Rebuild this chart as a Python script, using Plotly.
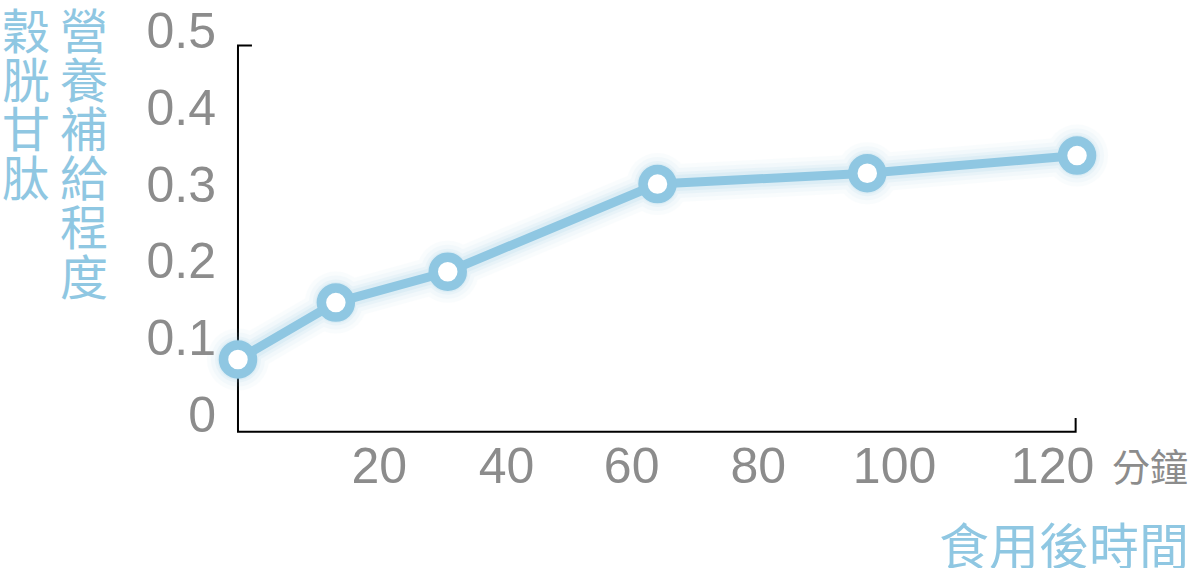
import plotly.graph_objects as go

# Data: minutes after intake vs glutathione level
minutes = [0, 14, 30, 60, 90, 120]
level = [0.072, 0.146, 0.186, 0.300, 0.314, 0.337]

y_ticks = [0, 0.1, 0.2, 0.3, 0.4, 0.5]
y_tick_text = ["0", "0.1", "0.2", "0.3", "0.4", "0.5"]
x_tick_text = ["20", "40", "60", "80", "100", "120"]

y_title_left = "穀胱甘肽"
y_title_right = "營養補給程度"
x_unit = "分鐘"
x_title = "食用後時間"

BLUE = "#8fc7e2"
GRAY = "#8c8c8c"
CJK = "Noto Sans CJK TC"
LATIN = "Liberation Sans, Arial, sans-serif"

W, H = 1192, 568
ML, MR, MT, MB = 217, 80, 3, 130
PW, PH = W - ML - MR, H - MT - MB


def paper_x(px):
    return (px - ML) / PW


def paper_y(py):
    return (H - MB - py) / PH


fig = go.Figure()

# soft glow under the line
for width, size, op in [(38, 62, 0.045), (30, 54, 0.06), (22, 46, 0.09), (16, 41, 0.13)]:
    fig.add_trace(go.Scatter(
        x=minutes, y=level, mode="lines+markers",
        line=dict(color=BLUE, width=width),
        marker=dict(size=size, color=BLUE),
        opacity=op, hoverinfo="skip", showlegend=False,
        cliponaxis=False,
    ))

fig.add_trace(go.Scatter(
    x=minutes, y=level, mode="lines+markers",
    line=dict(color=BLUE, width=9),
    marker=dict(size=29, color="white", line=dict(color=BLUE, width=9.5)),
    showlegend=False, cliponaxis=False,
))

# L-shaped axis frame with small end ticks
fig.add_shape(
    type="path",
    path="M 2,0.48 L 0,0.48 L 0,-0.022 L 119.8,-0.022 L 119.8,-0.004",
    xref="x", yref="y",
    line=dict(color="black", width=2),
    layer="below",
)

annotations = []
for i, ch in enumerate(y_title_left):
    annotations.append(dict(
        text=ch, x=paper_x(26), y=paper_y(24 + 49.5 * i),
        xref="paper", yref="paper", showarrow=False,
        xanchor="center", yanchor="middle",
        font=dict(family=CJK, size=48, color=BLUE),
    ))
for i, ch in enumerate(y_title_right):
    annotations.append(dict(
        text=ch, x=paper_x(84), y=paper_y(24.5 + 49.5 * i),
        xref="paper", yref="paper", showarrow=False,
        xanchor="center", yanchor="middle",
        font=dict(family=CJK, size=48, color=BLUE),
    ))
annotations.append(dict(
    text=x_unit, x=paper_x(1150), y=paper_y(465),
    xref="paper", yref="paper", showarrow=False,
    xanchor="center", yanchor="middle",
    font=dict(family=CJK, size=38, color=GRAY),
))
annotations.append(dict(
    text=x_title, x=paper_x(1064), y=paper_y(544),
    xref="paper", yref="paper", showarrow=False,
    xanchor="center", yanchor="middle",
    font=dict(family=CJK, size=50, color=BLUE),
))

fig.update_layout(
    width=W, height=H,
    margin=dict(l=ML, r=MR, t=MT, b=MB, pad=0),
    paper_bgcolor="white", plot_bgcolor="white",
    annotations=annotations,
    xaxis=dict(
        range=[-3, 125],
        tickvals=[20.2, 38.4, 56.3, 74.4, 93.9, 116.5],
        ticktext=x_tick_text,
        tickfont=dict(family=LATIN, size=50, color=GRAY),
        showgrid=False, zeroline=False, showline=False, ticks="",
        ticklabelstandoff=-6,
        ticklabeloverflow="allow",
    ),
    yaxis=dict(
        range=[-0.03, 0.53],
        tickvals=y_ticks,
        ticktext=y_tick_text,
        tickfont=dict(family=LATIN, size=50, color=GRAY),
        showgrid=False, zeroline=False, showline=False, ticks="",
        ticklabeloverflow="allow",
    ),
)

fig.write_html(
    "out.html",
    config={"displayModeBar": False},
    post_script="document.body.style.margin='0';",
)
